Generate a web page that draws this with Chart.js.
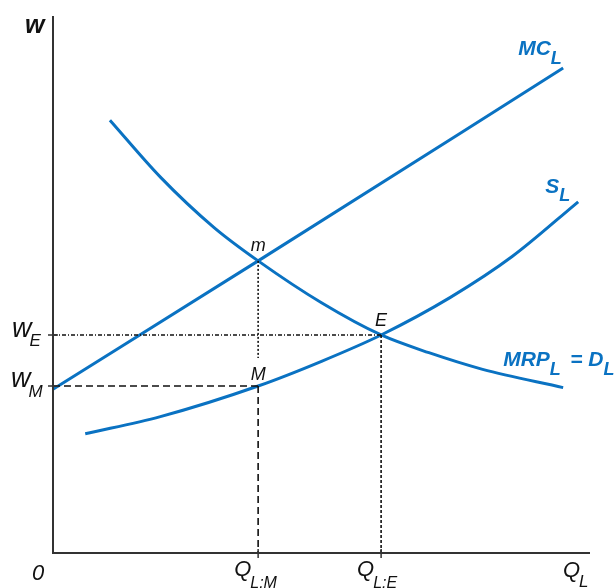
<!DOCTYPE html>
<html>
<head>
<meta charset="utf-8">
<script src="https://cdn.jsdelivr.net/npm/chart.js@4/dist/chart.umd.min.js"></script>
<style>
  html, body { margin: 0; padding: 0; background: #fff; }
  canvas { display: block; }
</style>
</head>
<body>
<canvas id="c" width="615" height="588"></canvas>
<script>
// Monopsony in the labour market: MC of labour, labour supply and MRP (labour demand)
const mcL  = [[0, 3.05], [3.82, 5.44], [9.50, 9.03]];
const sL   = [[0.60, 2.22], [2.00, 2.54], [3.82, 3.11], [5.00, 3.57], [6.11, 4.06],
              [7.40, 4.76], [8.55, 5.52], [9.78, 6.54]];
const mrpL = [[1.06, 8.06], [2.00, 7.00], [3.00, 6.06], [3.82, 5.44], [5.00, 4.66],
              [6.11, 4.06], [7.00, 3.73], [8.00, 3.42], [9.50, 3.08]];

const qM = 3.82, qE = 6.11;     // quantity hired: monopsony / competitive
const wM = 3.11, wE = 4.06;     // wage paid: monopsony / competitive
const mW = 5.44;                // height where MC_L meets MRP_L
const mGuideEnd = 3.63;         // dotted drop from m stops short of M

const qTickLabels = [['Q', 'L:M'], ['Q', 'L:E']];
const wTickLabels = [['w', 'E'], ['w', 'M']];

const BLUE = '#0a72c2';
const INK = '#111';
const AXIS = '#333';

const pts = arr => arr.map(([x, y]) => ({ x, y }));

function curve(data, label) {
  return {
    label, data: pts(data), borderColor: BLUE, borderWidth: 3,
    pointRadius: 0, cubicInterpolationMode: 'monotone', fill: false
  };
}
function guide(data, dash) {
  return {
    data: pts(data), borderColor: INK, borderWidth: 1.6, borderDash: dash,
    pointRadius: 0, tension: 0, fill: false
  };
}

// draws "main" with a lowered subscript after it
function subText(ctx, x, y, main, sub, mainFont, subFont, color, drop, gap) {
  ctx.fillStyle = color;
  ctx.textAlign = 'left';
  ctx.textBaseline = 'alphabetic';
  ctx.font = mainFont;
  ctx.fillText(main, x, y);
  const w = ctx.measureText(main).width;
  if (sub) {
    ctx.font = subFont;
    ctx.fillText(sub, x + w + gap, y + drop);
  }
}

const diagram = {
  id: 'diagram',
  afterDatasetsDraw(chart) {
    const { ctx, scales: { x, y } } = chart;
    const X = v => x.getPixelForValue(v);
    const Y = v => y.getPixelForValue(v);
    const x0 = X(0), y0 = Y(0), yTop = Y(10), xEnd = X(10);

    ctx.save();
    // axes
    ctx.strokeStyle = AXIS;
    ctx.lineWidth = 2;
    ctx.beginPath();
    ctx.moveTo(x0, yTop); ctx.lineTo(x0, y0); ctx.lineTo(xEnd, y0);
    ctx.stroke();

    // tick marks
    ctx.lineWidth = 1.5;
    ctx.beginPath();
    [qM, qE].forEach(q => { ctx.moveTo(X(q), y0 - 4); ctx.lineTo(X(q), y0 + 5); });
    [wM, wE].forEach(w => { ctx.moveTo(x0 - 5, Y(w)); ctx.lineTo(x0 + 5, Y(w)); });
    ctx.stroke();

    const it = (size, bold) => `italic ${bold ? 'bold ' : ''}${size}px "Liberation Sans", Arial, sans-serif`;

    // axis titles
    subText(ctx, 25, 33, 'w', '', it(25, true), '', INK, 0, 0);
    subText(ctx, 32, 580, '0', '', it(22), '', INK, 0, 0);
    subText(ctx, X(10) - 27, y0 + 24, 'Q', 'L', it(22), it(17), INK, 10, -1);

    // wage labels on the vertical axis
    subText(ctx, 12, Y(wE) + 2, wTickLabels[0][0], wTickLabels[0][1], it(27), it(17), INK, 9, -2);
    subText(ctx, 11, Y(wM) + 1, wTickLabels[1][0], wTickLabels[1][1], it(27), it(17), INK, 10, -2);

    // quantity labels on the horizontal axis
    subText(ctx, X(qM) - 24, y0 + 23, qTickLabels[0][0], qTickLabels[0][1], it(22), it(16), INK, 12, -1);
    subText(ctx, X(qE) - 24, y0 + 23, qTickLabels[1][0], qTickLabels[1][1], it(22), it(16), INK, 12, -1);

    // point labels
    ctx.fillStyle = INK;
    ctx.textAlign = 'center';
    ctx.font = it(18);
    ctx.fillText('m', X(qM), Y(mW) - 10);
    ctx.fillText('E', X(qE), Y(wE) - 9);
    ctx.fillText('M', X(qM), Y(wM) - 6);

    // curve labels
    const mcEnd = mcL[mcL.length - 1], sEnd = sL[sL.length - 1], dEnd = mrpL[mrpL.length - 1];
    subText(ctx, X(mcEnd[0]) - 45, Y(mcEnd[1]) - 13, 'MC', 'L', it(21, true), it(18, true), BLUE, 9, 0);
    subText(ctx, X(sEnd[0]) - 33, Y(sEnd[1]) - 9, 'S', 'L', it(21, true), it(18, true), BLUE, 8, 0);
    const mrpX = X(dEnd[0]) - 60, mrpY = Y(dEnd[1]) - 22;
    subText(ctx, mrpX, mrpY, 'MRP', 'L', it(21, true), it(18, true), BLUE, 9, 0);
    subText(ctx, mrpX + 67, mrpY, '= D', 'L', it(21, true), it(18, true), BLUE, 9, 0);
    ctx.restore();
  }
};

new Chart(document.getElementById('c'), {
  type: 'line',
  data: {
    datasets: [
      guide([[0, wM], [qM, wM]], [7, 4]),
      guide([[qM, wM], [qM, 0]], [7, 4]),
      guide([[qM, mW], [qM, mGuideEnd]], [2, 2]),
      guide([[0, wE], [qE, wE]], [4, 2, 1, 2]),
      guide([[qE, wE], [qE, 0]], [3, 2]),
      curve(mcL, 'MC_L'),
      curve(sL, 'S_L'),
      curve(mrpL, 'MRP_L')
    ]
  },
  options: {
    responsive: false,
    animation: false,
    layout: { padding: { left: 53, right: 25, top: 16, bottom: 35 } },
    scales: {
      x: { type: 'linear', min: 0, max: 10, display: false },
      y: { type: 'linear', min: 0, max: 10, display: false }
    },
    plugins: { legend: { display: false }, tooltip: { enabled: false } },
    clip: false
  },
  plugins: [diagram]
});
</script>
</body>
</html>
